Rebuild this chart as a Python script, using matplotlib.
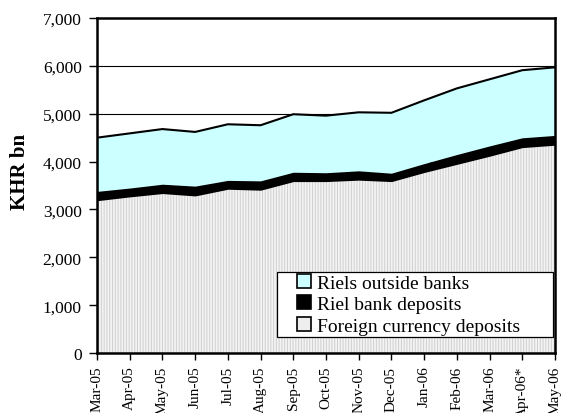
import matplotlib
matplotlib.use("Agg")
import matplotlib.pyplot as plt
import numpy as np
from matplotlib.lines import Line2D

plt.rcParams['font.family'] = ['Liberation Serif', 'DejaVu Serif']
plt.rcParams['hatch.linewidth'] = 0.7

months = ["Mar-05", "Apr-05", "May-05", "Jun-05", "Jul-05", "Aug-05", "Sep-05", "Oct-05",
          "Nov-05", "Dec-05", "Jan-06", "Feb-06", "Mar-06", "Apr-06*", "May-06"]
# KHR bn
foreign = [3200, 3280, 3350, 3300, 3440, 3420, 3600, 3600, 3630, 3600, 3790, 3960, 4130, 4310, 4360]
rielDeposits = [160, 150, 160, 170, 150, 160, 160, 150, 160, 140, 150, 170, 180, 170, 170]
rielsOutside = [1140, 1160, 1170, 1150, 1190, 1180, 1230, 1210, 1240, 1280, 1340, 1400, 1410, 1430, 1440]

x = np.arange(len(months))
foreign = np.array(foreign)
rielDeposits = np.array(rielDeposits)
rielsOutside = np.array(rielsOutside)
level1 = foreign
level2 = foreign + rielDeposits
level3 = level2 + rielsOutside

fig = plt.figure(figsize=(5.61, 4.14), dpi=100)
ax = fig.add_axes([0.1729, 0.1449, 0.8164, 0.8091])

for yv in range(1000, 7000, 1000):
    ax.axhline(yv, color='black', lw=0.8, zorder=0)

ax.fill_between(x, 0, level1, facecolor='#f3f3f3', edgecolor='#d0d0d0', hatch='||||||', lw=0, zorder=1)
ax.fill_between(x, level1, level2, facecolor='black', edgecolor='black', lw=1.2, zorder=2)
ax.fill_between(x, level2, level3, facecolor='#ccffff', edgecolor='none', zorder=1)
ax.plot(x, level3, color='black', lw=1.5, zorder=3)

ax.set_xlim(0, len(months) - 1)
ax.set_ylim(0, 7000)
ax.set_yticks(range(0, 7001, 1000))
ax.set_yticklabels([f"{v:,}" for v in range(0, 7001, 1000)], fontsize=12.5)
ax.set_xticks(x)
ax.set_xticklabels(months, rotation=90, fontsize=11)
ax.tick_params(axis='y', direction='out', length=6, width=1, pad=5)
ax.tick_params(axis='x', direction='out', length=5, width=1, pad=4)
for s in ax.spines.values():
    s.set_linewidth(1.8)
ax.set_ylabel("KHR bn", fontsize=15, fontweight='bold')
ax.yaxis.set_label_coords(-0.146, 0.543)

handles = [Line2D([], [], ls='none', marker='s', markersize=10, markerfacecolor='#ccffff',
                  markeredgecolor='black', markeredgewidth=1.2),
           Line2D([], [], ls='none', marker='s', markersize=10, markerfacecolor='black',
                  markeredgecolor='black', markeredgewidth=1.2),
           Line2D([], [], ls='none', marker='s', markersize=10, markerfacecolor='#eeeeee',
                  markeredgecolor='black', markeredgewidth=1.2)]
leg = ax.legend(handles, ["Riels outside banks", "Riel bank deposits", "Foreign currency deposits"],
                loc='lower left', bbox_to_anchor=(0.393, 0.0478, 0.6026, 0.23), mode='expand',
                fontsize=14, frameon=True, fancybox=False, edgecolor='black', framealpha=1,
                handlelength=2.5, handletextpad=-0.55, labelspacing=0.2, borderpad=0.12,
                borderaxespad=0)
leg.get_frame().set_linewidth(0.9)
leg.set_zorder(5)

fig.savefig("out.png", dpi=100)
